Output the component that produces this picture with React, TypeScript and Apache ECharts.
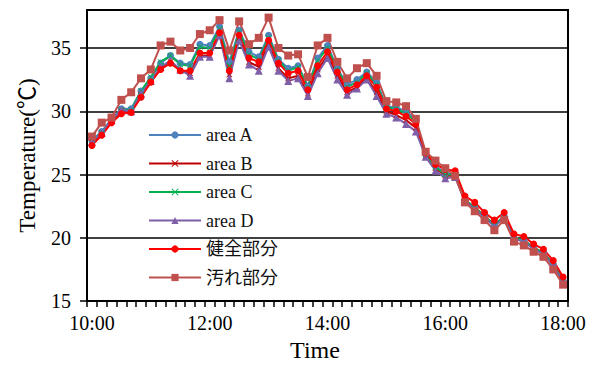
import React, { useEffect, useRef } from "react";
import * as echarts from "echarts";

const times = [
  "10:00", "10:10", "10:20", "10:30", "10:40", "10:50",
  "11:00", "11:10", "11:20", "11:30", "11:40", "11:50",
  "12:00", "12:10", "12:20", "12:30", "12:40", "12:50",
  "13:00", "13:10", "13:20", "13:30", "13:40", "13:50",
  "14:00", "14:10", "14:20", "14:30", "14:40", "14:50",
  "15:00", "15:10", "15:20", "15:30", "15:40", "15:50",
  "16:00", "16:10", "16:20", "16:30", "16:40", "16:50",
  "17:00", "17:10", "17:20", "17:30", "17:40", "17:50",
  "18:00",
];

const areaA = [
  27.7, 28.4, 29.4, 30.2, 30.2, 31.6, 32.6, 33.8, 34.4, 33.8, 33.7, 35.3,
  35.2, 36.7, 33.9, 36.4, 34.7, 34.3, 36.0, 34.1, 33.4, 33.6, 32.0, 34.2,
  35.2, 33.4, 32.1, 32.5, 33.1, 32.3, 30.4, 30.3, 30.0, 29.3, 26.6, 25.7,
  25.1, 25.0, 23.0, 22.4, 21.7, 21.0, 21.7, 20.0, 19.8, 19.2, 18.8, 17.9,
  16.6,
];
const areaB = [
  27.5, 28.2, 29.2, 30.0, 29.9, 31.3, 32.3, 33.4, 33.9, 33.2, 33.0, 34.4,
  34.4, 36.1, 32.9, 35.8, 33.9, 33.5, 35.3, 33.4, 32.6, 32.8, 31.4, 33.3,
  34.4, 32.8, 31.5, 31.9, 32.6, 31.5, 30.0, 29.7, 29.3, 28.7, 26.5, 25.5,
  24.9, 24.9, 22.9, 22.4, 21.7, 21.0, 21.7, 20.0, 19.8, 19.2, 18.8, 17.9,
  16.6,
];
const areaC = [
  27.7, 28.3, 29.3, 30.1, 30.1, 31.6, 32.7, 33.9, 34.4, 33.7, 33.6, 35.1,
  35.0, 36.5, 33.6, 36.3, 34.5, 34.1, 35.8, 34.0, 33.2, 33.5, 31.9, 34.0,
  35.0, 33.3, 31.9, 32.3, 33.0, 32.1, 30.3, 30.2, 29.8, 29.2, 26.6, 25.6,
  25.0, 25.0, 23.0, 22.4, 21.7, 21.0, 21.7, 20.0, 19.8, 19.2, 18.8, 17.9,
  16.6,
];
const areaD = [
  27.6, 28.3, 29.3, 30.1, 30.0, 31.4, 32.4, 33.5, 34.0, 33.3, 32.8, 34.3,
  34.3, 36.0, 32.6, 35.6, 33.7, 33.2, 35.1, 33.2, 32.4, 32.6, 31.2, 33.0,
  34.2, 32.5, 31.3, 31.8, 32.5, 31.2, 29.8, 29.5, 29.0, 28.4, 26.4, 25.3,
  24.7, 24.8, 22.9, 22.3, 21.6, 20.9, 21.6, 19.9, 19.7, 19.1, 18.7, 17.8,
  16.5,
];
const healthy = [
  27.3, 28.1, 29.1, 29.8, 29.9, 31.1, 32.3, 33.3, 33.8, 33.2, 33.2, 34.6,
  34.6, 36.2, 33.2, 36.0, 34.2, 33.9, 35.6, 33.8, 33.0, 33.2, 31.7, 33.6,
  34.7, 33.1, 31.7, 32.1, 32.8, 31.9, 30.2, 30.0, 29.6, 29.0, 26.7, 25.8,
  25.4, 25.3, 23.3, 22.8, 22.0, 21.4, 22.0, 20.3, 20.1, 19.5, 19.1, 18.2,
  16.9,
];
const dirty = [
  28.0, 29.1, 29.5, 30.9, 31.5, 32.6, 33.3, 35.2, 35.5, 34.8, 35.0, 36.1,
  36.4, 37.2, 34.8, 37.1, 35.3, 35.8, 37.4, 35.0, 34.4, 34.5, 32.7, 35.2,
  35.8, 33.9, 32.6, 33.4, 33.8, 32.8, 30.8, 30.7, 30.4, 29.4, 26.8, 26.1,
  25.5, 24.9, 22.8, 22.1, 21.4, 20.6, 21.4, 19.7, 19.4, 18.9, 18.5, 17.5,
  16.3,
];

const seriesNames = ["area A", "area B", "area C", "area D", "健全部分", "汚れ部分"];
const seriesColors = ["#4F81BD", "#C00000", "#00B050", "#7F5FA8", "#FF0000", "#C0504D"];

const FONT = "Liberation Serif, Noto Sans CJK JP, serif";
const XSYM = "path://M1,0 L5,4 L9,0 L10,1 L6,5 L10,9 L9,10 L5,6 L1,10 L0,9 L4,5 L0,1 Z";

export default function App() {
  const ref = useRef<HTMLDivElement>(null);
  useEffect(() => {
    if (!ref.current) return;
    const chart = echarts.init(ref.current, null, { renderer: "svg" });
    const datas = [areaA, areaB, areaC, areaD, healthy, dirty];
    const symbols = ["circle", XSYM, XSYM, "triangle", "circle", "rect"];
    const sizes = [7, 6, 6, 8, 7, 8];
    chart.setOption({
      animation: false,
      backgroundColor: "#fff",
      textStyle: { fontFamily: FONT },
      grid: {
        left: 87,
        right: 36,
        top: 10,
        bottom: 62,
        show: true,
        borderColor: "#000",
        borderWidth: 2,
        backgroundColor: "transparent",
      },
      legend: {
        orient: "vertical",
        left: 148,
        top: 125,
        padding: 0,
        itemWidth: 52,
        itemHeight: 9,
        itemGap: 8.5,
        data: seriesNames,
        textStyle: { fontSize: 18, fontFamily: FONT, color: "#111", lineHeight: 20 },
      },
      xAxis: {
        type: "category",
        data: times,
        boundaryGap: true,
        name: "Time",
        nameLocation: "middle",
        nameGap: 33,
        nameTextStyle: { fontSize: 24, color: "#000", fontFamily: FONT, padding: [0, 25, 0, 0] },
        axisLine: { lineStyle: { color: "#000", width: 2 } },
        axisTick: { show: true, interval: 0, length: 6, lineStyle: { color: "#000", width: 1.5 } },
        axisLabel: { interval: 11, fontSize: 20, color: "#000", margin: 12, fontFamily: FONT },
        splitLine: { show: false },
      },
      yAxis: {
        type: "value",
        min: 15,
        max: 38,
        interval: 5,
        name: "Temperature(℃)",
        nameLocation: "middle",
        nameGap: 48,
        nameRotate: 90,
        nameTextStyle: { fontSize: 23, color: "#000", fontFamily: FONT },
        axisLine: { show: true, lineStyle: { color: "#000", width: 2 } },
        axisTick: { show: true, length: 7, lineStyle: { color: "#000", width: 1.5 } },
        axisLabel: { fontSize: 20, color: "#000", margin: 16, showMaxLabel: false, fontFamily: FONT },
        splitLine: { show: true, lineStyle: { color: "#000", width: 1.5 } },
      },
      series: seriesNames.map((n, i) => ({
        name: n,
        type: "line",
        data: datas[i],
        symbol: symbols[i],
        symbolSize: sizes[i],
        showAllSymbol: true,
        color: seriesColors[i],
        lineStyle: { width: 2, color: seriesColors[i] },
        itemStyle: { color: seriesColors[i] },
      })),
    });
    return () => chart.dispose();
  }, []);
  return (
    <div
      ref={ref}
      style={{ position: "fixed", left: 0, top: 0, width: 604, height: 367 }}
    />
  );
}
